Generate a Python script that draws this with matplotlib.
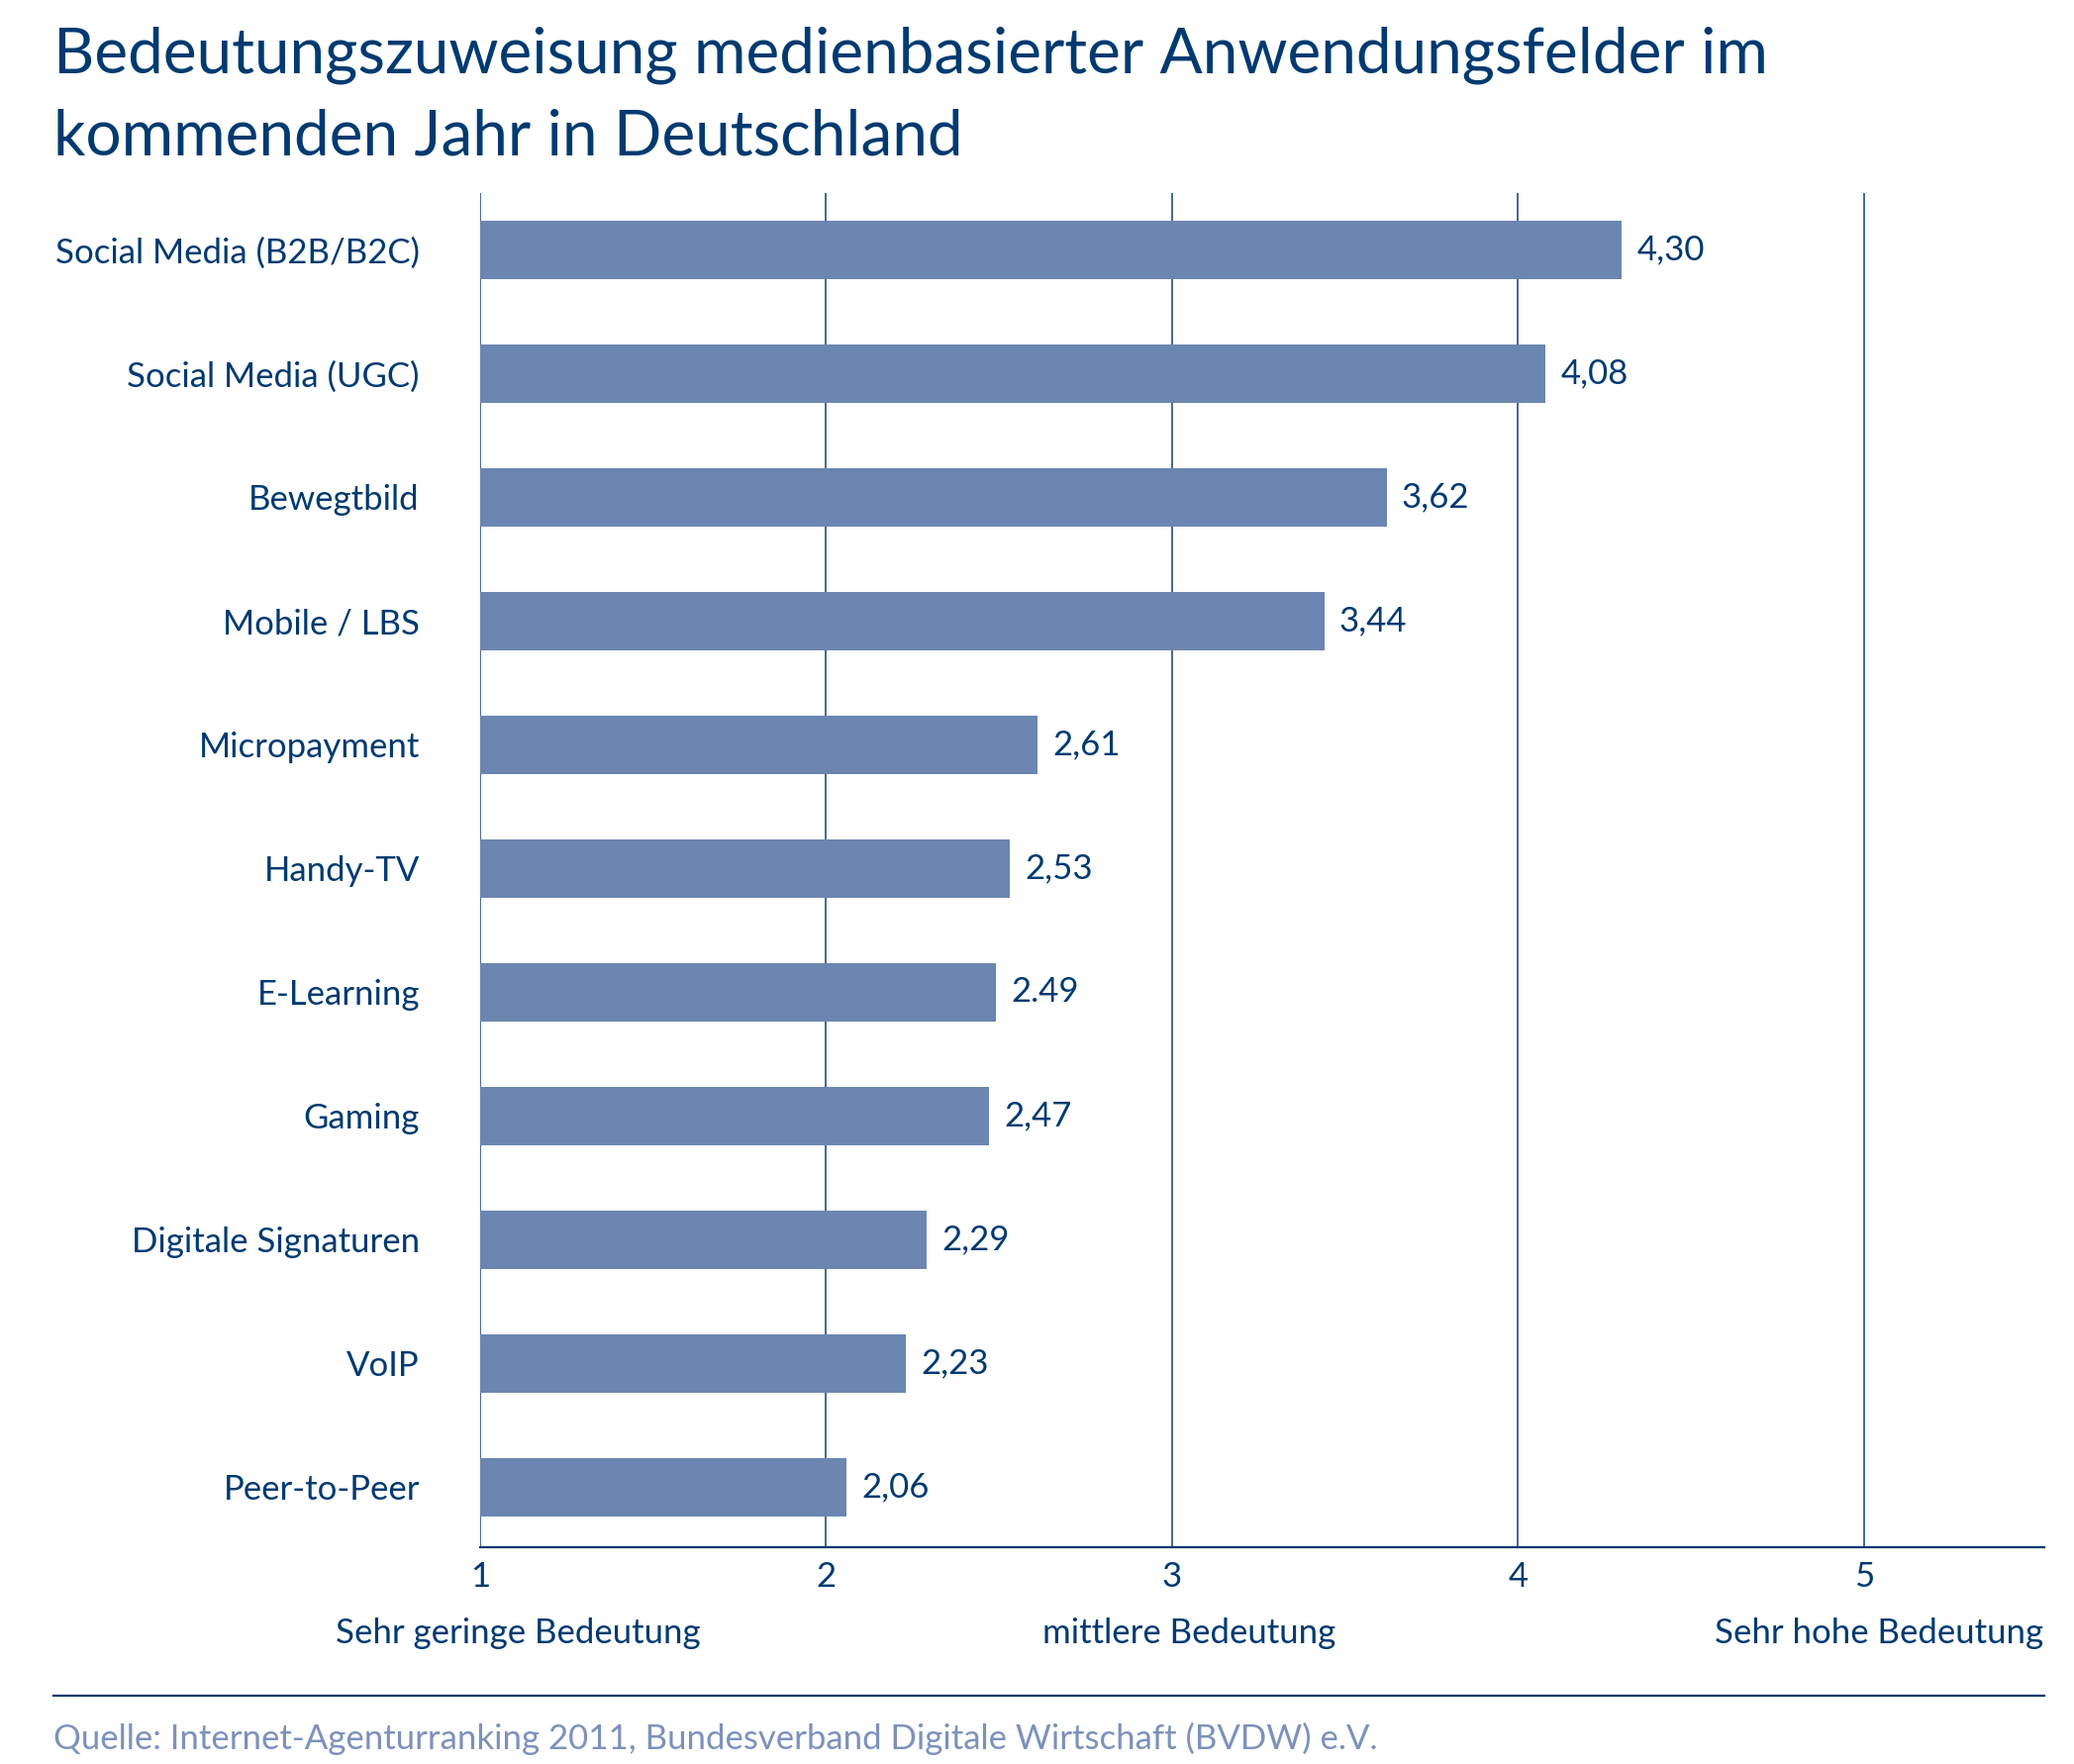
import matplotlib.pyplot as plt

plt.rcParams['font.family'] = ['Lato', 'DejaVu Sans']

# Daten
kategorien = ["Social Media (B2B/B2C)", "Social Media (UGC)", "Bewegtbild",
              "Mobile / LBS", "Micropayment", "Handy-TV", "E-Learning",
              "Gaming", "Digitale Signaturen", "VoIP", "Peer-to-Peer"]
werte = [4.30, 4.08, 3.62, 3.44, 2.61, 2.53, 2.49, 2.47, 2.29, 2.23, 2.06]
wert_texte = ["4,30", "4,08", "3,62", "3,44", "2,61", "2,53", "2.49",
              "2,47", "2,29", "2,23", "2,06"]
x_ticks = [1, 2, 3, 4, 5]
skala_texte = ["Sehr geringe Bedeutung", "mittlere Bedeutung", "Sehr hohe Bedeutung"]
skala_pos = [1.11, 3.05, 5.52]

navy = "#003a70"
bar_col = "#6b86b0"
grid_col = "#123f70"

fig = plt.figure(figsize=(20.95, 17.82), dpi=100)
ax = fig.add_axes([0.2315, 0.1229, 0.754, 0.8906 - 0.1229])

pos = list(range(len(kategorien)))
ax.barh(pos, [w - 1 for w in werte], left=1, height=0.47, color=bar_col, zorder=3)

for p, w, t in zip(pos, werte, wert_texte):
    ax.annotate(t, (w, p), xytext=(11, 0), textcoords="offset points",
                ha="left", va="center", fontsize=25, color=navy)

# vertikale Linien
for xt in x_ticks:
    ax.axvline(xt, color=grid_col, lw=1.1, zorder=1)

ax.set_xlim(1, 5.52)
ax.set_ylim(10.484, -0.46)
ax.set_yticks(pos)
ax.set_yticklabels(kategorien, fontsize=25, color=navy)
ax.set_xticks(x_ticks)
ax.set_xticklabels([str(x) for x in x_ticks], fontsize=25, color=navy)
ax.tick_params(axis="y", length=0, pad=44)
ax.tick_params(axis="x", length=0, pad=10)

for s in ["top", "right", "left"]:
    ax.spines[s].set_visible(False)
ax.spines["bottom"].set_color(navy)
ax.spines["bottom"].set_linewidth(1.6)

# Skalenbeschriftung unter der Achse
for t, xp in zip(skala_texte, skala_pos):
    ha = "right" if t == skala_texte[-1] else "center"
    ax.annotate(t, xy=(xp, 0.0685), xycoords=("data", "figure fraction"),
                fontsize=25, color=navy, ha=ha, va="baseline")

# Titel
fig.text(0.0256, 0.959, "Bedeutungszuweisung medienbasierter Anwendungsfelder im",
         fontsize=46, color=navy, ha="left", va="baseline")
fig.text(0.0256, 0.912, "kommenden Jahr in Deutschland",
         fontsize=46, color=navy, ha="left", va="baseline")

# Fusszeile
fig.add_artist(plt.Line2D([0.0256, 0.9857], [0.039, 0.039], transform=fig.transFigure,
                          color=navy, lw=1.6))
fig.text(0.0256, 0.0084,
         "Quelle: Internet-Agenturranking 2011, Bundesverband Digitale Wirtschaft (BVDW) e.V.",
         fontsize=25, color="#7d91bb", ha="left", va="baseline")

fig.savefig("out.png", dpi=100)
